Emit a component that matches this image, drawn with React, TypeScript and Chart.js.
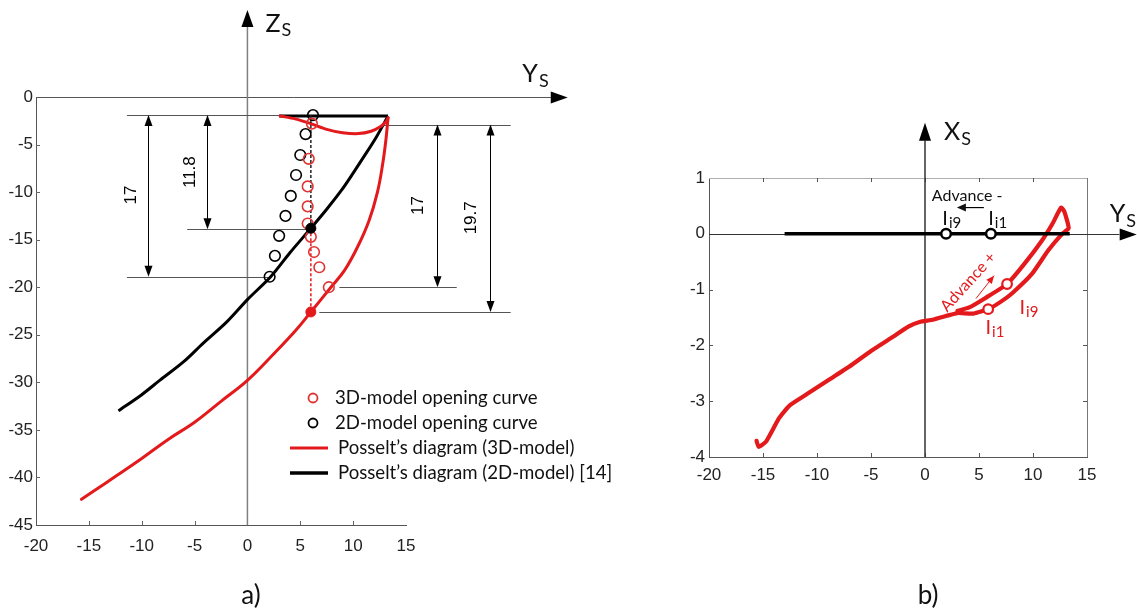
import { useEffect, useRef } from "react";
import { Chart, registerables } from "chart.js";
Chart.register(...registerables);

// ================= Panel a) : Z_S vs Y_S =================
const aPosselt3DArcY = [3.1, 4.5, 6.0, 7.5, 9.0, 10.5, 11.7, 12.6, 13.1, 13.3];
const aPosselt3DArcZ = [-2.0, -2.3, -2.8, -3.4, -3.75, -3.85, -3.6, -3.1, -2.6, -2.2];
const aPosselt3DSideY = [13.3, 13.1, 12.8, 12.3, 11.5, 10.4, 9.2, 7.9, 6.0, 4.6, 2.5, 0.0, -2.5, -5.0, -7.5, -10.0, -12.5, -14.5, -15.7];
const aPosselt3DSideZ = [-2.2, -4.5, -7.0, -10.0, -13.0, -15.8, -18.2, -20.0, -22.6, -24.5, -27.0, -29.8, -32.0, -34.2, -36.0, -38.0, -39.9, -41.4, -42.3];
const aPosselt2DY = [-12.2, -10.0, -8.3, -6.0, -4.2, -2.0, 0.0, 2.2, 4.0, 6.0, 7.5, 8.9, 10.0, 11.0, 12.2, 13.3];
const aPosselt2DZ = [-33.0, -31.3, -29.8, -27.8, -25.9, -23.7, -21.3, -18.9, -16.4, -13.8, -11.8, -9.8, -8.0, -6.3, -4.2, -2.0];
const aPosselt2DTopY = [13.3, 3.0];
const aPosselt2DTopZ = [-2.0, -2.0];
const aOpening3DY = [6.1, 5.8, 5.7, 5.7, 5.7, 6.0, 6.3, 6.8, 7.7];
const aOpening3DZ = [-2.8, -6.5, -9.4, -11.5, -13.3, -14.7, -16.3, -17.9, -20.0];
const aOpening2DY = [6.2, 5.5, 5.0, 4.6, 4.1, 3.6, 3.0, 2.6, 2.1];
const aOpening2DZ = [-1.9, -3.9, -6.1, -8.2, -10.4, -12.5, -14.6, -16.7, -18.9];
const aDotBlack = { y: 6.0, z: -13.8 };
const aDotRed = { y: 6.0, z: -22.6 };
const aTickStepX = 5;
const aTickStepY = 5;
const legendLabels = [
  "3D-model opening curve",
  "2D-model opening curve",
  "Posselt\u2019s diagram (3D-model)",
  "Posselt\u2019s diagram (2D-model) [14]",
];
// dimension annotations (data units)
const aHLines = [
  { z: -1.9, from: -11.4, to: 3.0 },
  { z: -18.9, from: -11.4, to: 2.0 },
  { z: -13.9, from: -5.7, to: 6.0 },
  { z: -2.9, from: 12.9, to: 24.9 },
  { z: -20.0, from: 8.7, to: 19.8 },
  { z: -22.6, from: 6.8, to: 24.9 },
];
const aDims = [
  { y: -9.4, from: -1.9, to: -18.9, label: "17", ly: -10.95, lz: -10.3 },
  { y: -3.8, from: -1.9, to: -13.9, label: "11.8", ly: -5.4, lz: -7.9 },
  { y: 17.9, from: -2.9, to: -20.0, label: "17", ly: 16.2, lz: -11.4 },
  { y: 22.9, from: -2.9, to: -22.6, label: "19.7", ly: 21.2, lz: -12.7 },
];

// ================= Panel b) : X_S vs Y_S =================
const bPosselt3DY = [-15.6, -15.4, -14.7, -13.5, -12.5, -11.0, -9.0, -7.0, -5.0, -3.0, -1.5, -0.5, 0.7, 2.0, 3.0, 4.5, 5.85, 7.0, 8.1, 9.9, 11.4, 12.7, 13.3, 12.9, 12.6, 11.8, 10.8, 9.2, 7.6, 5.6, 4.1, 3.0];
const bPosselt3DX = [-3.71, -3.82, -3.72, -3.3, -3.07, -2.88, -2.63, -2.38, -2.1, -1.85, -1.66, -1.58, -1.54, -1.47, -1.42, -1.43, -1.35, -1.22, -1.06, -0.72, -0.3, 0.0, 0.1, 0.4, 0.47, 0.18, -0.13, -0.54, -0.9, -1.15, -1.32, -1.38];
const bPosselt2DY = [-13.0, 13.4];
const bPosselt2DX = [0, 0];
const bBlackPtsY = [1.95, 6.1];
const bBlackPtsX = [0, 0];
const bRedPtsY = [7.6, 5.85];
const bRedPtsX = [-0.9, -1.35];

const RED = "#e3191c";
const RED_PT = "#e03434";
const TICK_FONT = "Liberation Sans";
const TEXT_FONT = "Lato";

const pts = (xs: number[], ys: number[]) => xs.map((x, i) => ({ x, y: ys[i] }));
const r5 = (v: number) => Math.round(v) + 0.5;

function arrowHead(ctx: CanvasRenderingContext2D, tx: number, ty: number, dir: string, len: number, half: number) {
  ctx.beginPath();
  ctx.moveTo(tx, ty);
  if (dir === "up") { ctx.lineTo(tx - half, ty + len); ctx.lineTo(tx + half, ty + len); }
  if (dir === "down") { ctx.lineTo(tx - half, ty - len); ctx.lineTo(tx + half, ty - len); }
  if (dir === "left") { ctx.lineTo(tx + len, ty - half); ctx.lineTo(tx + len, ty + half); }
  if (dir === "right") { ctx.lineTo(tx - len, ty - half); ctx.lineTo(tx - len, ty + half); }
  ctx.closePath();
  ctx.fill();
}

function subText(ctx: CanvasRenderingContext2D, main: string, sub: string, x: number, y: number, mainSize: number, subSize: number, color: string, drop: number) {
  ctx.fillStyle = color;
  ctx.textAlign = "left";
  ctx.textBaseline = "alphabetic";
  ctx.font = `${mainSize}px ${TEXT_FONT}`;
  ctx.fillText(main, x, y);
  const w = ctx.measureText(main).width;
  ctx.font = `${subSize}px ${TEXT_FONT}`;
  ctx.fillText(sub, x + w + 1, y + drop);
}

const leftPlugin = {
  id: "leftDeco",
  beforeDatasetsDraw(chart: any) {
    const { ctx, scales, chartArea } = chart;
    const X = (v: number) => scales.x.getPixelForValue(v);
    const Y = (v: number) => scales.y.getPixelForValue(v);
    ctx.save();
    // inward ticks
    ctx.strokeStyle = "#666";
    ctx.lineWidth = 1;
    ctx.beginPath();
    scales.y.ticks.forEach((t: any) => {
      if (t.value === 0 || t.value === -45) return;
      const py = r5(Y(t.value));
      ctx.moveTo(chartArea.left, py);
      ctx.lineTo(chartArea.left + 4, py);
    });
    scales.x.ticks.forEach((t: any) => {
      if (t.value === -20 || t.value === 15) return;
      const px = r5(X(t.value));
      ctx.moveTo(px, chartArea.bottom);
      ctx.lineTo(px, chartArea.bottom - 4);
    });
    ctx.stroke();
    // Y_S axis (top line) with arrow
    ctx.strokeStyle = "#555";
    ctx.beginPath();
    ctx.moveTo(X(-20), r5(Y(0)));
    ctx.lineTo(X(28.7), r5(Y(0)));
    ctx.stroke();
    ctx.fillStyle = "#000";
    arrowHead(ctx, X(30.3), r5(Y(0)), "right", 17, 6);
    // Z_S axis (vertical) with arrow
    ctx.strokeStyle = "#808080";
    ctx.lineWidth = 1.5;
    ctx.beginPath();
    ctx.moveTo(X(0), Y(-45));
    ctx.lineTo(X(0), Y(7.5));
    ctx.stroke();
    arrowHead(ctx, X(0), Y(9.15), "up", 17, 6);
    // dimension horizontal lines
    ctx.strokeStyle = "#555";
    ctx.lineWidth = 1;
    ctx.beginPath();
    aHLines.forEach((h) => {
      const py = r5(Y(h.z));
      ctx.moveTo(X(h.from), py);
      ctx.lineTo(X(h.to), py);
    });
    ctx.stroke();
    // dimension arrows
    ctx.strokeStyle = "#000";
    ctx.fillStyle = "#000";
    aDims.forEach((d) => {
      const px = r5(X(d.y));
      const p1 = Y(d.from), p2 = Y(d.to);
      ctx.beginPath();
      ctx.moveTo(px, p1 + 8);
      ctx.lineTo(px, p2 - 8);
      ctx.stroke();
      arrowHead(ctx, px, p1, "up", 11, 4);
      arrowHead(ctx, px, p2, "down", 11, 4);
      ctx.save();
      ctx.translate(X(d.ly), Y(d.lz));
      ctx.rotate(-Math.PI / 2);
      ctx.font = `17px ${TICK_FONT}`;
      ctx.textAlign = "center";
      ctx.textBaseline = "middle";
      ctx.fillText(d.label, 0, 0);
      ctx.restore();
    });
    ctx.restore();
  },
  afterDatasetsDraw(chart: any) {
    const { ctx, scales, chartArea } = chart;
    const X = (v: number) => scales.x.getPixelForValue(v);
    const Y = (v: number) => scales.y.getPixelForValue(v);
    ctx.save();
    // axis names
    subText(ctx, "Z", "S", X(1.7), Y(6.85), 25, 18, "#111", 4);
    subText(ctx, "Y", "S", X(26.0), Y(1.6), 25, 18, "#111", 5);
    // legend
    const lx = chartArea.left + 254;
    const rows = [301, 326, 351, 376].map((r) => chartArea.top + r);
    ctx.lineWidth = 1.8;
    ctx.strokeStyle = RED_PT;
    ctx.beginPath();
    ctx.arc(lx + 23, rows[0], 4.5, 0, Math.PI * 2);
    ctx.stroke();
    ctx.strokeStyle = "#000";
    ctx.beginPath();
    ctx.arc(lx + 23, rows[1], 4.5, 0, Math.PI * 2);
    ctx.stroke();
    ctx.lineWidth = 3;
    ctx.strokeStyle = RED;
    ctx.beginPath();
    ctx.moveTo(lx, rows[2]);
    ctx.lineTo(lx + 38, rows[2]);
    ctx.stroke();
    ctx.strokeStyle = "#000";
    ctx.lineWidth = 3.5;
    ctx.beginPath();
    ctx.moveTo(lx, rows[3]);
    ctx.lineTo(lx + 38, rows[3]);
    ctx.stroke();
    ctx.fillStyle = "#111";
    ctx.font = `18.6px ${TEXT_FONT}`;
    ctx.textAlign = "left";
    ctx.textBaseline = "middle";
    legendLabels.forEach((t, i) => ctx.fillText(t, lx + (i < 2 ? 45 : 48), rows[i]));
    // panel label
    ctx.font = `26px ${TEXT_FONT}`;
    ctx.textAlign = "center";
    ctx.textBaseline = "alphabetic";
    ctx.fillStyle = "#111";
    ctx.fillText("a)", 251, 604);
    ctx.restore();
  },
};

const rightPlugin = {
  id: "rightDeco",
  beforeDatasetsDraw(chart: any) {
    const { ctx, scales, chartArea } = chart;
    const X = (v: number) => scales.x.getPixelForValue(v);
    const Y = (v: number) => scales.y.getPixelForValue(v);
    ctx.save();
    // box top/right
    ctx.lineWidth = 1;
    ctx.strokeStyle = "#b0b0b0";
    ctx.beginPath();
    ctx.moveTo(chartArea.left, r5(chartArea.top));
    ctx.lineTo(chartArea.right, r5(chartArea.top));
    ctx.stroke();
    ctx.strokeStyle = "#777";
    ctx.beginPath();
    ctx.moveTo(r5(chartArea.right), chartArea.top);
    ctx.lineTo(r5(chartArea.right), chartArea.bottom);
    ctx.stroke();
    // inward ticks, all sides
    ctx.strokeStyle = "#555";
    ctx.beginPath();
    scales.x.ticks.forEach((t: any) => {
      if (t.value === -20 || t.value === 15) return;
      const px = r5(X(t.value));
      ctx.moveTo(px, chartArea.bottom);
      ctx.lineTo(px, chartArea.bottom - 4);
      ctx.moveTo(px, chartArea.top);
      ctx.lineTo(px, chartArea.top + 4);
    });
    scales.y.ticks.forEach((t: any) => {
      if (t.value === 1 || t.value === -4) return;
      const py = r5(Y(t.value));
      ctx.moveTo(chartArea.left, py);
      ctx.lineTo(chartArea.left + 4, py);
      ctx.moveTo(chartArea.right, py);
      ctx.lineTo(chartArea.right - 4, py);
    });
    ctx.stroke();
    // Y_S axis
    ctx.strokeStyle = "#333";
    ctx.beginPath();
    ctx.moveTo(X(-20), r5(Y(0)));
    ctx.lineTo(X(18.0), r5(Y(0)));
    ctx.stroke();
    ctx.fillStyle = "#000";
    arrowHead(ctx, X(19.6), r5(Y(0)), "right", 17, 6);
    // X_S axis
    ctx.lineWidth = 1.5;
    ctx.beginPath();
    ctx.moveTo(X(0), Y(-4));
    ctx.lineTo(X(0), Y(1.67));
    ctx.stroke();
    arrowHead(ctx, X(0), Y(1.99), "up", 18, 6);
    ctx.restore();
  },
  afterDatasetsDraw(chart: any) {
    const { ctx, scales } = chart;
    const X = (v: number) => scales.x.getPixelForValue(v);
    const Y = (v: number) => scales.y.getPixelForValue(v);
    ctx.save();
    subText(ctx, "X", "S", X(1.75), Y(1.68), 25, 18, "#111", 5);
    subText(ctx, "Y", "S", X(17.1), Y(0.22), 25, 18, "#111", 5);
    // Advance -
    ctx.fillStyle = "#111";
    ctx.font = `16px ${TEXT_FONT}`;
    ctx.textAlign = "center";
    ctx.textBaseline = "middle";
    ctx.fillText("Advance -", X(3.9), Y(0.68));
    ctx.strokeStyle = "#000";
    ctx.lineWidth = 1.2;
    ctx.beginPath();
    ctx.moveTo(X(5.45), Y(0.47));
    ctx.lineTo(X(3.6), Y(0.47));
    ctx.stroke();
    arrowHead(ctx, X(2.95), Y(0.47), "left", 9, 4);
    // black labels
    subText(ctx, "I", "i9", X(1.6), Y(0.16), 20, 15, "#111", 3);
    subText(ctx, "I", "i1", X(5.85), Y(0.16), 20, 15, "#111", 3);
    // red labels
    subText(ctx, "I", "i9", X(8.75), Y(-1.43), 20, 15, RED, 3);
    subText(ctx, "I", "i1", X(5.6), Y(-1.79), 20, 15, RED, 3);
    // Advance + rotated text & arrow
    ctx.save();
    ctx.translate(X(4.0), Y(-0.86));
    ctx.rotate((-48 * Math.PI) / 180);
    ctx.fillStyle = RED;
    ctx.font = `16px ${TEXT_FONT}`;
    ctx.textAlign = "center";
    ctx.textBaseline = "middle";
    ctx.fillText("Advance +", 0, 0);
    ctx.restore();
    const ax0 = X(4.72), ay0 = Y(-1.16), ax1 = X(6.39), ay1 = Y(-0.75);
    ctx.strokeStyle = RED;
    ctx.fillStyle = RED;
    ctx.lineWidth = 1;
    ctx.beginPath();
    ctx.moveTo(ax0, ay0);
    ctx.lineTo(ax1, ay1);
    ctx.stroke();
    const ang = Math.atan2(ay1 - ay0, ax1 - ax0);
    ctx.beginPath();
    ctx.moveTo(ax1, ay1);
    ctx.lineTo(ax1 - 8 * Math.cos(ang) + 3.5 * Math.sin(ang), ay1 - 8 * Math.sin(ang) - 3.5 * Math.cos(ang));
    ctx.lineTo(ax1 - 8 * Math.cos(ang) - 3.5 * Math.sin(ang), ay1 - 8 * Math.sin(ang) + 3.5 * Math.cos(ang));
    ctx.closePath();
    ctx.fill();
    // panel label
    ctx.font = `26px ${TEXT_FONT}`;
    ctx.textAlign = "center";
    ctx.textBaseline = "alphabetic";
    ctx.fillStyle = "#111";
    ctx.fillText("b)", 298, 604);
    ctx.restore();
  },
};

function axisOpts(min: number, max: number, step: number, pad: number, fit: (s: any) => void) {
  return {
    type: "linear" as const,
    min,
    max,
    afterFit: fit,
    grid: { display: false, drawTicks: false },
    border: { display: true, color: "#555", width: 1 },
    ticks: {
      stepSize: step,
      autoSkip: false,
      maxRotation: 0,
      padding: pad,
      color: "#222",
      font: { family: TICK_FONT, size: 17 },
    },
  };
}

export default function App() {
  const leftRef = useRef<HTMLCanvasElement>(null);
  const rightRef = useRef<HTMLCanvasElement>(null);

  useEffect(() => {
    const left = new Chart(leftRef.current!, {
      type: "scatter",
      data: {
        datasets: [
          { data: [{ x: aDotBlack.y, y: aDotBlack.z }], pointRadius: 5, pointBackgroundColor: "#000", pointBorderColor: "#000", showLine: false },
          { data: [{ x: aDotRed.y, y: aDotRed.z }], pointRadius: 5, pointBackgroundColor: RED, pointBorderColor: RED, showLine: false },
          { data: pts(aOpening3DY, aOpening3DZ), pointRadius: 5.3, pointBorderWidth: 1.6, pointBorderColor: RED_PT, pointBackgroundColor: "rgba(0,0,0,0)", showLine: false },
          { data: pts(aOpening2DY, aOpening2DZ), pointRadius: 5.3, pointBorderWidth: 1.6, pointBorderColor: "#000", pointBackgroundColor: "rgba(0,0,0,0)", showLine: false },
          { data: [{ x: aDotBlack.y, y: aOpening2DZ[0] }, { x: aDotBlack.y, y: aDotBlack.z }], showLine: true, borderColor: "#222", borderWidth: 1.5, borderDash: [3, 2], pointRadius: 0 },
          { data: [{ x: aDotRed.y, y: aDotBlack.z }, { x: aDotRed.y, y: aDotRed.z }], showLine: true, borderColor: RED, borderWidth: 1.5, borderDash: [3, 2], pointRadius: 0 },
          { data: pts(aPosselt3DArcY, aPosselt3DArcZ), showLine: true, borderColor: RED, borderWidth: 3, pointRadius: 0, tension: 0.3, borderCapStyle: "round" },
          { data: pts(aPosselt3DSideY, aPosselt3DSideZ), showLine: true, borderColor: RED, borderWidth: 3, pointRadius: 0, tension: 0.4, borderCapStyle: "round" },
          { data: pts(aPosselt2DY, aPosselt2DZ), showLine: true, borderColor: "#000", borderWidth: 3, pointRadius: 0, tension: 0.3 },
          { data: pts(aPosselt2DTopY, aPosselt2DTopZ), showLine: true, borderColor: "#000", borderWidth: 3, pointRadius: 0, tension: 0 },
        ],
      },
      options: {
        animation: false,
        responsive: false,
        devicePixelRatio: 1,
        layout: { padding: { left: 0, top: 97, right: 630 - 406, bottom: 0 } },
        plugins: { legend: { display: false }, tooltip: { enabled: false } },
        scales: {
          x: axisOpts(-20, 15, aTickStepX, 11, (s: any) => { s.height = 87; }),
          y: axisOpts(-45, 0, aTickStepY, 3, (s: any) => { s.width = 36; }),
        },
      } as any,
      plugins: [leftPlugin],
    });

    const right = new Chart(rightRef.current!, {
      type: "scatter",
      data: {
        datasets: [
          { data: pts(bBlackPtsY, bBlackPtsX), pointRadius: 4.8, pointBorderWidth: 2.5, pointBorderColor: "#000", pointBackgroundColor: "#fff", showLine: false },
          { data: pts(bRedPtsY, bRedPtsX), pointRadius: 4.8, pointBorderWidth: 2.2, pointBorderColor: RED, pointBackgroundColor: "#fff", showLine: false },
          { data: pts(bPosselt2DY, bPosselt2DX), showLine: true, borderColor: "#000", borderWidth: 3.5, pointRadius: 0 },
          { data: pts(bPosselt3DY, bPosselt3DX), showLine: true, borderColor: RED, borderWidth: 4.2, pointRadius: 0, tension: 0.15, borderJoinStyle: "round", borderCapStyle: "round" },
        ],
      },
      options: {
        animation: false,
        responsive: false,
        devicePixelRatio: 1,
        layout: { padding: { left: 0, top: 178, right: 507 - 457, bottom: 0 } },
        plugins: { legend: { display: false }, tooltip: { enabled: false } },
        scales: {
          x: axisOpts(-20, 15, 5, 8, (s: any) => { s.height = 155; }),
          y: axisOpts(-4, 1, 1, 4, (s: any) => { s.width = 79; }),
        },
      } as any,
      plugins: [rightPlugin],
    });

    return () => {
      left.destroy();
      right.destroy();
    };
  }, []);

  return (
    <div style={{ position: "absolute", left: 0, top: 0, width: 1137, height: 612, background: "#fff", overflow: "hidden" }}>
      <canvas ref={leftRef} width={630} height={612} style={{ position: "absolute", left: 0, top: 0, width: 630, height: 612 }} />
      <canvas ref={rightRef} width={507} height={612} style={{ position: "absolute", left: 630, top: 0, width: 507, height: 612 }} />
    </div>
  );
}
